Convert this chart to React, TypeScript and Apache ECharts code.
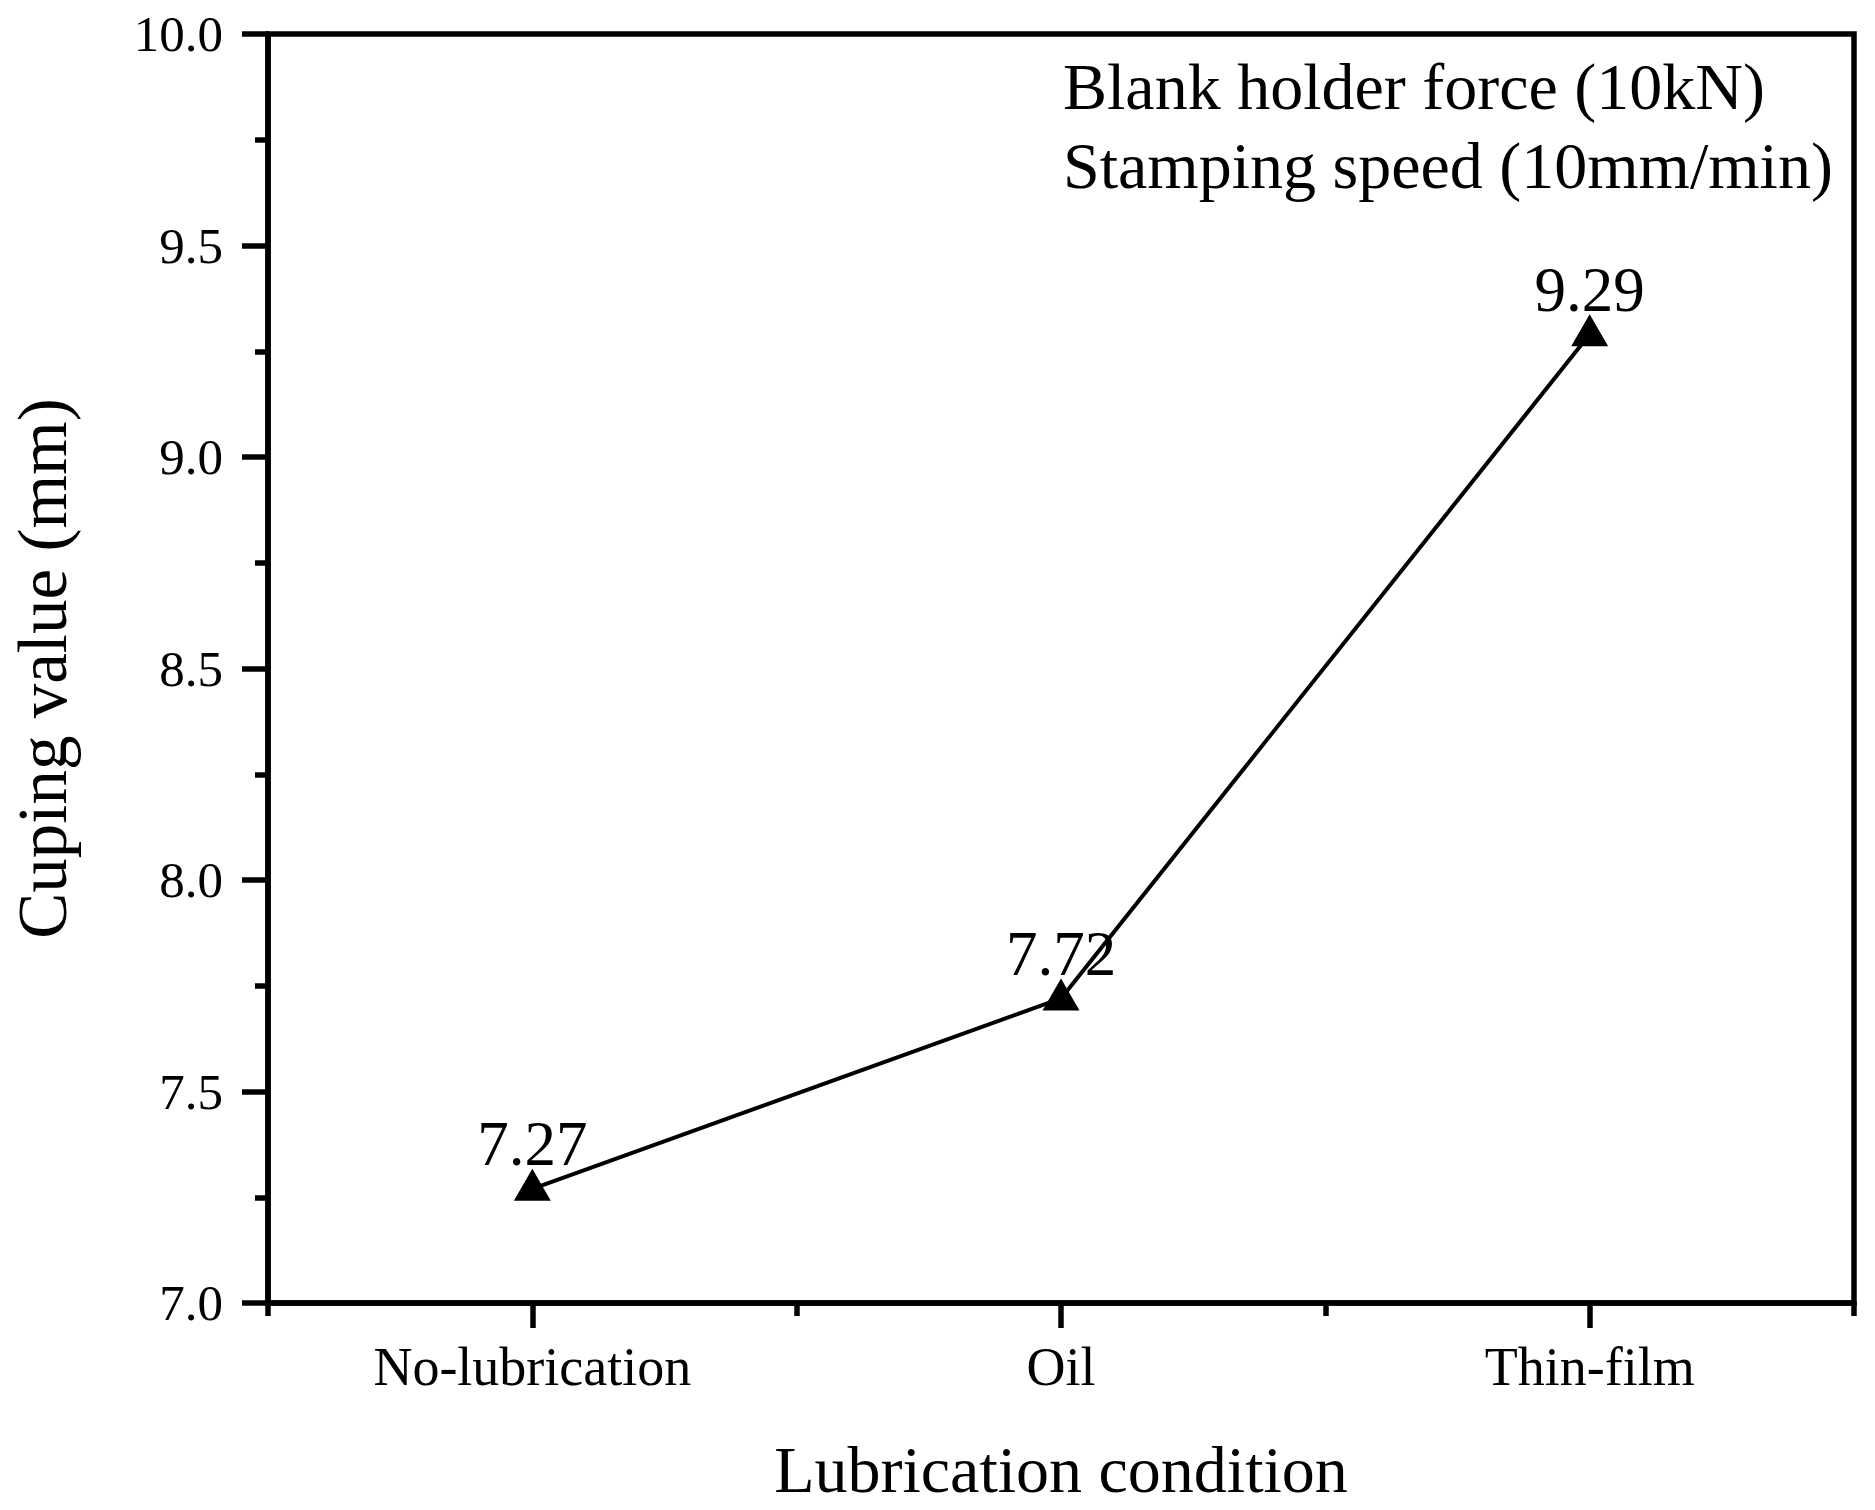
import React, { useEffect, useRef } from "react";
import * as echarts from "echarts";

const categories = ["No-lubrication", "Oil", "Thin-film"];
const cuppingValues = [7.27, 7.72, 9.29];
const yTicks = { min: 7, max: 10, interval: 0.5 };
const xTitle = "Lubrication condition";
const yTitle = "Cuping value (mm)";
const noteLines = ["Blank holder force (10kN)", "Stamping speed (10mm/min)"];

const FONT = "'Liberation Serif', 'Times New Roman', serif";

export default function App() {
  const ref = useRef<HTMLDivElement>(null);
  useEffect(() => {
    if (!ref.current) return;
    const chart = echarts.init(ref.current, null, { renderer: "svg" });
    const lw = 5.5;
    chart.setOption({
      animation: false,
      backgroundColor: "#ffffff",
      grid: {
        left: 265,
        right: 21,
        top: 34,
        bottom: 207,
        show: true,
        borderColor: "#000",
        borderWidth: lw,
        backgroundColor: "transparent",
      },
      xAxis: [
        {
          type: "category",
          data: categories,
          boundaryGap: true,
          position: "bottom",
          axisLine: { show: true, lineStyle: { color: "#000", width: lw } },
          axisTick: { show: true, alignWithLabel: true, inside: false, length: 25, lineStyle: { color: "#000", width: lw } },
          axisLabel: { color: "#000", fontFamily: FONT, fontSize: 54, margin: 37 },
          splitLine: { show: false },
          name: xTitle,
          nameLocation: "middle",
          nameGap: 133,
          nameTextStyle: { color: "#000", fontFamily: FONT, fontSize: 66 },
        },
        {
          type: "category",
          data: categories,
          boundaryGap: true,
          position: "bottom",
          axisLine: { show: false },
          axisTick: { show: true, alignWithLabel: false, length: 13, lineStyle: { color: "#000", width: lw } },
          axisLabel: { show: false },
          splitLine: { show: false },
        },
      ],
      yAxis: {
        type: "value",
        min: yTicks.min,
        max: yTicks.max,
        interval: yTicks.interval,
        axisLine: { show: true, lineStyle: { color: "#000", width: lw } },
        axisTick: { show: true, length: 26, lineStyle: { color: "#000", width: lw } },
        minorTick: { show: true, splitNumber: 2, length: 13, lineStyle: { color: "#000", width: lw } },
        axisLabel: {
          color: "#000",
          fontFamily: FONT,
          fontSize: 51,
          margin: 45,
          formatter: (v: number) => v.toFixed(1),
        },
        splitLine: { show: false },
        name: yTitle,
        nameLocation: "middle",
        nameGap: 191,
        nameTextStyle: { color: "#000", fontFamily: FONT, fontSize: 69 },
      },
      series: [
        {
          type: "line",
          xAxisIndex: 0,
          data: cuppingValues,
          lineStyle: { color: "#000", width: 4 },
          itemStyle: { color: "#000" },
          symbol: "triangle",
          symbolSize: [37, 32],
          symbolOffset: [0, -4],
          label: {
            show: true,
            position: "top",
            distance: 0,
            offset: [0, 7],
            color: "#000",
            fontFamily: FONT,
            fontSize: 63,
            formatter: (p: any) => p.value.toFixed(2),
          },
          z: 5,
        },
      ],
      graphic: noteLines.map((t, i) => ({
        type: "text",
        left: 1063,
        top: 67 - 14 + i * 79,
        style: {
          text: t,
          fill: "#000",
          font: `66px ${FONT}`,
        },
      })),
    });
    return () => chart.dispose();
  }, []);
  return (
    <div
      ref={ref}
      style={{ position: "fixed", left: 0, top: 0, width: 1875, height: 1510, background: "#fff" }}
    />
  );
}
